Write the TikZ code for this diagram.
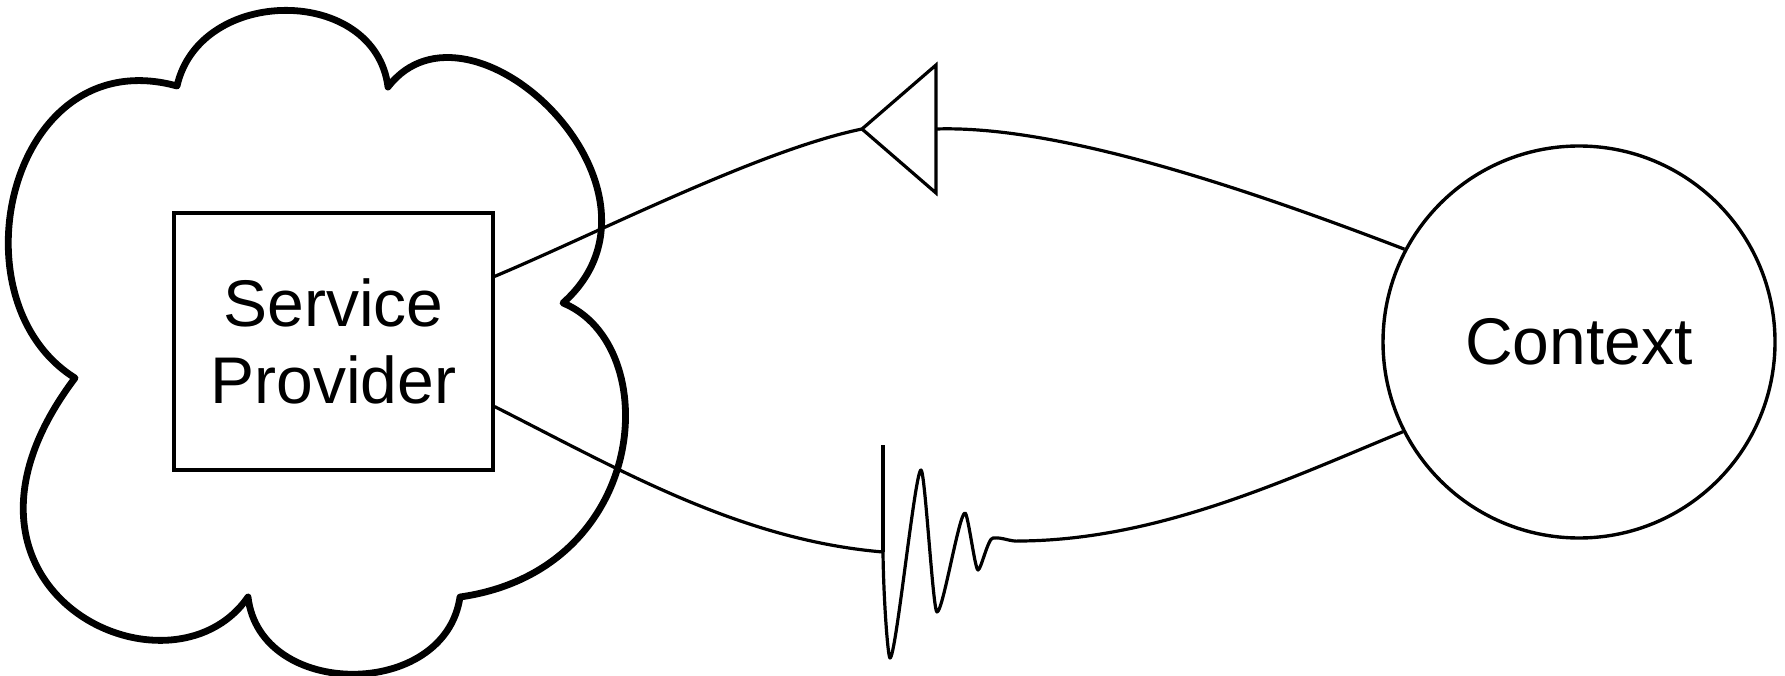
\documentclass[tikz,border=0pt]{standalone}
\usepackage{fontspec}
\setmainfont{Liberation Sans}
\begin{document}
\begin{tikzpicture}[x=1pt,y=-1pt,
  conn/.style={line width=3.2pt},
  cloudline/.style={line width=6.8pt, line join=round},
  box/.style={draw, line width=3.4pt, minimum width=319pt, minimum height=257pt, inner sep=0pt, align=center, font=\fontsize{66}{77}\selectfont},
  ctxnode/.style={draw, circle, line width=3.4pt, minimum size=392pt, inner sep=0pt, font=\fontsize{66}{77}\selectfont}]
\useasboundingbox[fill=white] (0,0) rectangle (1785,676);

% cloud
\draw[cloudline] (177,86) .. controls (200,-15) and (375,-15) .. (388,87)
 .. controls (470,-20) and (690,190) .. (563,303)
 .. controls (665,345) and (650,570) .. (460,597)
 .. controls (445,700) and (260,700) .. (248,597)
 .. controls (170,710) and (-85,590) .. (75,378)
 .. controls (-50,300) and (10,40) .. cycle;

% nodes
\node[box] (sp) at (333.5,341.5) {Service\\Provider};
\node[ctxnode] (ctx) at (1579,342) {Context};

% triangle (provided interface)
\coordinate (tip) at (862,129);
\coordinate (tb) at (936,129);
\draw[conn, line join=miter] (tip) -- (936,65) -- (936,193) -- cycle;

% upper connector
\draw[conn] (sp.22) .. controls (600,232) and (760,150) .. (tip);
\draw[conn] (tb) .. controls (1060,125) and (1250,190) .. (ctx.152.7);

% bar and damped wave
\coordinate (bt) at (883,445);
\coordinate (bb) at (883,552);
\coordinate (we) at (1020,541);
\draw[conn] (bt) -- (bb);
\draw[conn] (sp.-22.6) .. controls (620,470) and (740,540) .. (bb);
\draw[conn, line join=round] (bb) .. controls (883.5,600) and (888,658) .. (890,658)
  .. controls (896,658) and (915,470) .. (921,470)
  .. controls (925,470) and (933,612) .. (937,612)
  .. controls (943,612) and (959,513) .. (965,513)
  .. controls (968,513) and (975,570) .. (978,570)
  .. controls (981,570) and (988,538) .. (993,538)
  .. controls (1003,537) and (1010,542) .. (we);
\draw[conn] (we) .. controls (1160,540) and (1290,478) .. (ctx.207.3);
\end{tikzpicture}
\end{document}
